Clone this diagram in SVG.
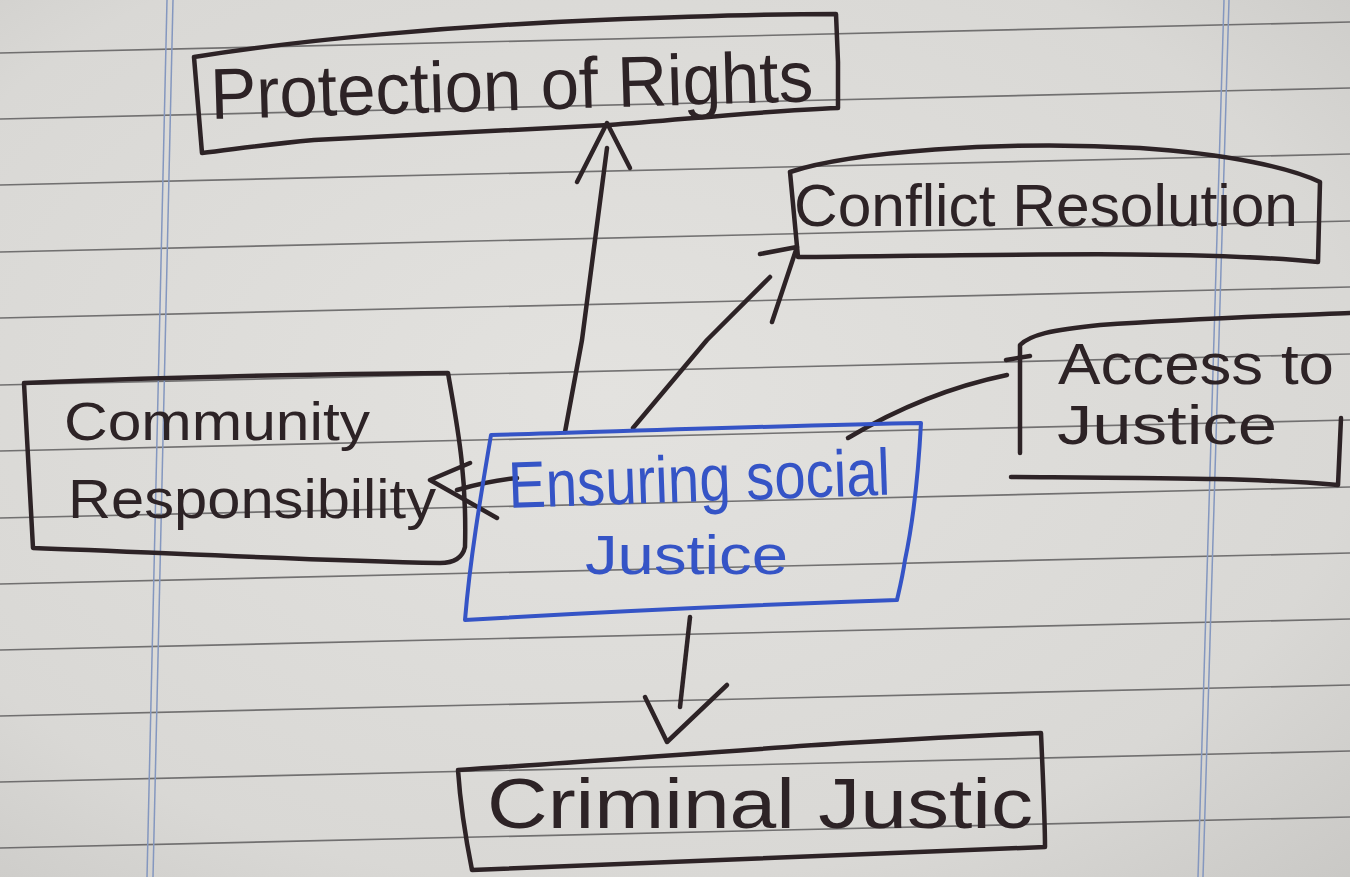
<svg xmlns="http://www.w3.org/2000/svg" width="1350" height="877" viewBox="0 0 1350 877">
  <defs>
    <radialGradient id="paper" cx="0.45" cy="0.45" r="0.8">
      <stop offset="0" stop-color="#e3e2df"/>
      <stop offset="0.7" stop-color="#d9d8d5"/>
      <stop offset="1" stop-color="#c8c7c4"/>
    </radialGradient>
    <style>
      .rule { stroke: #4e4c4d; stroke-width: 1.6; opacity: 0.75; fill: none; }
      .margin { stroke: #8497bf; stroke-width: 1.5; fill: none; }
      .box { fill: none; stroke: #2d2326; stroke-width: 4.5; stroke-linejoin: round; stroke-linecap: round; }
      .box-blue { fill: none; stroke: #3554c6; stroke-width: 4; stroke-linejoin: round; stroke-linecap: round; }
      .label { font-family: "Liberation Sans", "DejaVu Sans", sans-serif; fill: #2d2326; }
      .label-blue { font-family: "Liberation Sans", "DejaVu Sans", sans-serif; fill: #3554c6; }
      .conn { fill: none; stroke: #2d2326; stroke-width: 4.5; stroke-linecap: round; stroke-linejoin: round; }
    </style>
  </defs>

  <!-- paper -->
  <rect x="0" y="0" width="1350" height="877" fill="url(#paper)"/>
  <g id="ruled-lines">
    <line class="rule" x1="0" y1="53" x2="1350" y2="22"/>
    <line class="rule" x1="0" y1="119" x2="1350" y2="88"/>
    <line class="rule" x1="0" y1="185" x2="1350" y2="154"/>
    <line class="rule" x1="0" y1="252" x2="1350" y2="221"/>
    <line class="rule" x1="0" y1="318" x2="1350" y2="287"/>
    <line class="rule" x1="0" y1="385" x2="1350" y2="354"/>
    <line class="rule" x1="0" y1="451" x2="1350" y2="420"/>
    <line class="rule" x1="0" y1="518" x2="1350" y2="487"/>
    <line class="rule" x1="0" y1="584" x2="1350" y2="553"/>
    <line class="rule" x1="0" y1="650" x2="1350" y2="619"/>
    <line class="rule" x1="0" y1="716" x2="1350" y2="685"/>
    <line class="rule" x1="0" y1="782" x2="1350" y2="751"/>
    <line class="rule" x1="0" y1="848" x2="1350" y2="817"/>
  </g>
  <g id="margin-lines">
    <line class="margin" x1="167" y1="0" x2="147" y2="877"/>
    <line class="margin" x1="173" y1="0" x2="153" y2="877"/>
    <line class="margin" x1="1224" y1="0" x2="1198" y2="877"/>
    <line class="margin" x1="1229" y1="0" x2="1203" y2="877"/>
  </g>

  <!-- connectors -->
  <g id="connectors">
    <path class="conn" d="M565,432 L582,340 L607,148"/>
    <path class="conn" d="M577,182 L607,123 L630,168"/>
    <path class="conn" d="M633,428 L707,340 L770,277"/>
    <path class="conn" d="M760,254 L797,247 L772,322"/>
    <path class="conn" d="M848,438 Q925,392 1007,375"/>
    <path class="conn" d="M1006,360 L1030,356"/>
    <path class="conn" d="M517,478 Q488,481 457,490"/>
    <path class="conn" d="M470,463 L430,480 L497,518"/>
    <path class="conn" d="M690,617 L680,707"/>
    <path class="conn" d="M645,697 L667,742 L727,685"/>
  </g>

  <g id="node-protection">
    <path class="box" d="M194,57 C300,40 450,26 600,20 C700,16 780,14 836,14 L838,62 L838,108 C760,111 680,120 609,125 C500,131 400,135 314,140 C260,145 230,150 202,153 L194,57"/>
    <text class="label" x="211" y="119" font-size="72" textLength="603" lengthAdjust="spacingAndGlyphs" transform="rotate(-1.7 211 119)">Protection of Rights</text>
  </g>

  <g id="node-conflict">
    <path class="box" d="M790,172 C850,152 1000,140 1140,148 C1230,154 1290,168 1320,182 L1318,262 C1200,250 1000,255 798,257 L790,172"/>
    <text class="label" x="794" y="226" font-size="60" textLength="504" lengthAdjust="spacingAndGlyphs">Conflict Resolution</text>
  </g>

  <g id="node-access">
    <path class="box" d="M1020,453 L1020,345 C1030,335 1050,330 1100,325 C1200,318 1300,315 1350,313"/>
    <path class="box" d="M1011,477 C1150,478 1260,478 1338,485 L1341,418"/>
    <text class="label" x="1058" y="384" font-size="58" textLength="276" lengthAdjust="spacingAndGlyphs">Access to</text>
    <text class="label" x="1057" y="444" font-size="56" textLength="220" lengthAdjust="spacingAndGlyphs">Justice</text>
  </g>

  <g id="node-community">
    <path class="box" d="M24,383 C150,378 300,374 448,373 C456,420 467,470 465,547 C462,560 450,563 440,563 C300,560 150,552 33,548 L24,383"/>
    <text class="label" x="64" y="440" font-size="54" textLength="306" lengthAdjust="spacingAndGlyphs">Community</text>
    <text class="label" x="68" y="518" font-size="56" textLength="368" lengthAdjust="spacingAndGlyphs">Responsibility</text>
  </g>

  <g id="node-ensuring">
    <path class="box-blue" d="M491,435 C600,432 800,425 921,423 C918,480 912,527 905,560 C902,580 898,595 897,600 C750,605 600,612 465,620 C470,560 480,500 491,435 Z"/>
    <text class="label-blue" x="509" y="508" font-size="66" textLength="382" lengthAdjust="spacingAndGlyphs" transform="rotate(-2 509 508)">Ensuring social</text>
    <text class="label-blue" x="585" y="574" font-size="56" textLength="203" lengthAdjust="spacingAndGlyphs">Justice</text>
  </g>

  <g id="node-criminal">
    <path class="box" d="M458,770 C650,758 850,740 1041,733 C1043,780 1045,820 1045,847 C850,855 650,862 472,870 C465,835 460,800 458,770 Z"/>
    <text class="label" x="487" y="828" font-size="70" textLength="546" lengthAdjust="spacingAndGlyphs">Criminal Justic</text>
  </g>
</svg>
